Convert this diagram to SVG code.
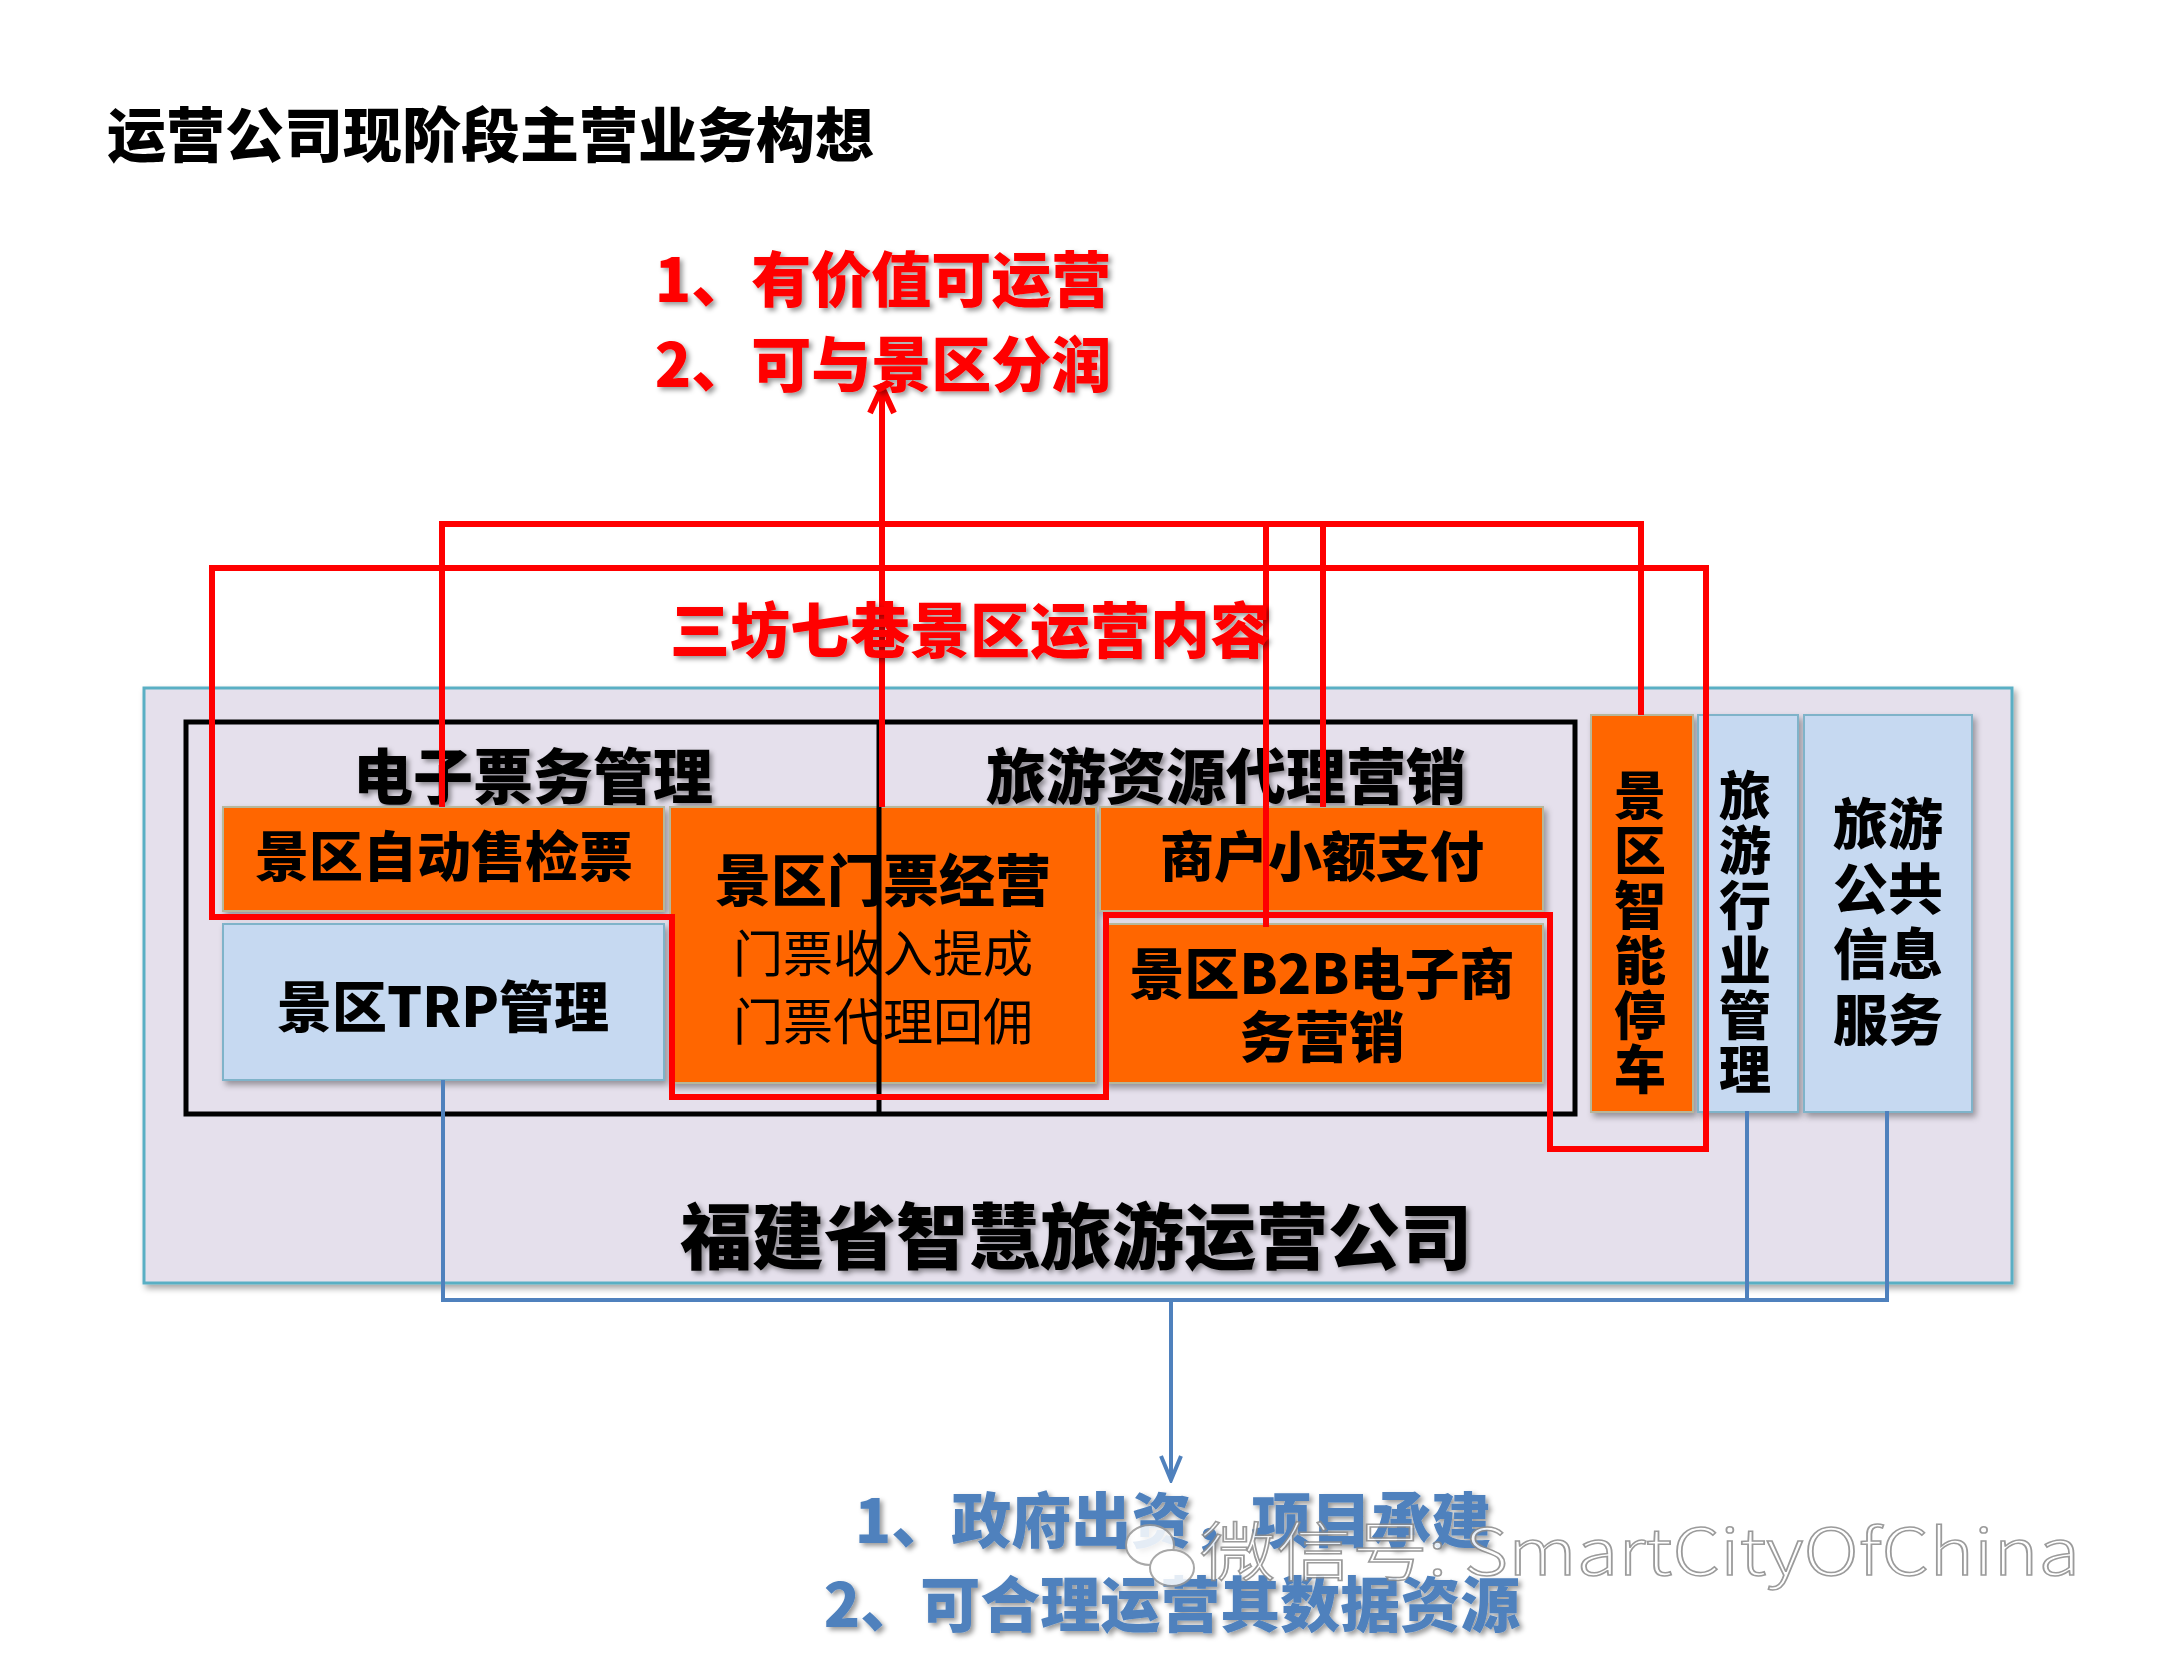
<svg xmlns="http://www.w3.org/2000/svg" width="2157" height="1668" viewBox="0 0 2157 1668">
<defs>
<style>
.t{font-family:"Noto Sans CJK SC","Noto Sans",sans-serif;text-anchor:middle;dominant-baseline:central}
.b{font-weight:900}
.r{font-weight:400}
.blk{fill:#000}
.red{fill:#FF0000}
.blu{fill:#4F81BD}
.or{fill:#FF6600;stroke:#B7B79A;stroke-width:2}
.lb{fill:#C6D9F1;stroke:#7FB3C9;stroke-width:2}
.rl{fill:none;stroke:#FF0000;stroke-width:6}
.bl{fill:none;stroke:#4F81BD;stroke-width:4}
</style>
<filter id="sh" x="-10%" y="-10%" width="130%" height="140%">
<feDropShadow dx="3" dy="4" stdDeviation="3" flood-color="#000" flood-opacity="0.35"/>
</filter>
<filter id="ts" x="-10%" y="-20%" width="130%" height="150%">
<feDropShadow dx="3" dy="3" stdDeviation="2.5" flood-color="#000" flood-opacity="0.4"/>
</filter>
<marker id="ar" viewBox="0 0 32 32" refX="16" refY="3" markerWidth="32" markerHeight="32" markerUnits="userSpaceOnUse" orient="0">
<path d="M4,30 L16,4 L28,30" fill="none" stroke="#FF0000" stroke-width="6"/>
</marker>
<marker id="ab" viewBox="0 0 30 30" refX="15" refY="27" markerWidth="30" markerHeight="30" markerUnits="userSpaceOnUse" orient="0">
<path d="M5,3 L15,27 L25,3" fill="none" stroke="#4F81BD" stroke-width="4"/>
</marker>
</defs>
<rect width="2157" height="1668" fill="#fff"/>

<text class="t b blk" x="107" y="131" font-size="59" style="text-anchor:start">运营公司现阶段主营业务构想</text>

<g id="company">
<rect x="144" y="688" width="1868" height="595" fill="#E5E0EC" stroke="#5AAFC4" stroke-width="3" filter="url(#sh)"/>
<text class="t b blk" x="1076" y="1231" font-size="72" filter="url(#ts)">福建省智慧旅游运营公司</text>
</g>

<g id="scenic-group">
<rect x="186" y="722" width="1389" height="392" fill="none" stroke="#000" stroke-width="5"/>
</g>

<g id="e-ticket">
<text class="t b blk" x="533" y="772" font-size="60" filter="url(#ts)">电子票务管理</text>
</g>
<g id="agency-marketing">
<text class="t b blk" x="1226" y="772" font-size="60" filter="url(#ts)">旅游资源代理营销</text>
</g>

<g id="auto-ticket">
<rect class="or" x="223" y="807" width="441" height="104" filter="url(#sh)"/>
<text class="t b blk" x="444" y="853" font-size="54">景区自动售检票</text>
</g>
<g id="trp">
<rect class="lb" x="223" y="924" width="441" height="156" filter="url(#sh)"/>
<text class="t b blk" x="443" y="1003" font-size="55">景区TRP管理</text>
</g>
<g id="ticket-ops">
<rect class="or" x="670" y="807" width="426" height="276" filter="url(#sh)"/>
<text class="t b blk" x="883" y="876" font-size="56">景区门票经营</text>
<text class="t r blk" x="883" y="950" font-size="50">门票收入提成</text>
<text class="t r blk" x="883" y="1018" font-size="50">门票代理回佣</text>
</g>
<g id="micropay">
<rect class="or" x="1100" y="807" width="443" height="104" filter="url(#sh)"/>
<text class="t b blk" x="1322" y="853" font-size="54">商户小额支付</text>
</g>
<g id="b2b">
<rect class="or" x="1104" y="924" width="439" height="159" filter="url(#sh)"/>
<text class="t b blk" x="1322" y="970" font-size="55">景区B2B电子商</text>
<text class="t b blk" x="1322" y="1033" font-size="55">务营销</text>
</g>
<g id="parking">
<rect class="or" x="1591" y="715" width="102" height="397" filter="url(#sh)"/>
<text class="t b blk" font-size="52"><tspan x="1640" y="792">景</tspan><tspan x="1640" y="847">区</tspan><tspan x="1640" y="902">智</tspan><tspan x="1640" y="957">能</tspan><tspan x="1640" y="1012">停</tspan><tspan x="1640" y="1066">车</tspan></text>
</g>
<g id="industry-mgmt">
<rect class="lb" x="1698" y="715" width="100" height="397" filter="url(#sh)"/>
<text class="t b blk" font-size="52"><tspan x="1745" y="792">旅</tspan><tspan x="1745" y="847">游</tspan><tspan x="1745" y="902">行</tspan><tspan x="1745" y="957">业</tspan><tspan x="1745" y="1012">管</tspan><tspan x="1745" y="1066">理</tspan></text>
</g>
<g id="public-info">
<rect class="lb" x="1804" y="715" width="168" height="397" filter="url(#sh)"/>
<text class="t b blk" font-size="55"><tspan x="1888" y="820">旅游</tspan><tspan x="1888" y="885">公共</tspan><tspan x="1888" y="950">信息</tspan><tspan x="1888" y="1016">服务</tspan></text>
</g>

<line x1="879" y1="722" x2="879" y2="1114" stroke="#000" stroke-width="5"/>

<g id="connectors">
<path class="rl" d="M212,568 H1706 V1149 H1550 V915 H1106 V1097 H672 V917 H212 Z"/>
<path class="rl" d="M442,807 V524 H1641 V715"/>
<path class="rl" d="M1266,524 V927"/>
<path class="rl" d="M1323,524 V807"/>
<path class="rl" d="M882,807 V386" marker-end="url(#ar)"/>
<path class="bl" d="M443,1080 V1300 H1887 V1111"/>
<path class="bl" d="M1747,1111 V1300"/>
<path class="bl" d="M1171,1300 V1480" marker-end="url(#ab)"/>
</g>

<g id="scenic-label">
<text class="t b red" x="970" y="626" font-size="60" filter="url(#ts)">三坊七巷景区运营内容</text>
</g>

<g id="value">
<text class="t b red" x="883" y="275" font-size="60" filter="url(#ts)">1、有价值可运营</text>
<text class="t b red" x="883" y="360" font-size="60" filter="url(#ts)">2、可与景区分润</text>
</g>

<g id="gov">
<text class="t b blu" x="1173" y="1516" font-size="60" filter="url(#ts)">1、政府出资，项目承建</text>
<text class="t b blu" x="1172" y="1600" font-size="60" filter="url(#ts)">2、可合理运营其数据资源</text>
</g>

<g id="watermark" opacity="0.85">
<ellipse cx="1150" cy="1545" rx="24" ry="20" fill="#fff" stroke="#999" stroke-width="2"/>
<ellipse cx="1172" cy="1568" rx="22" ry="18" fill="#fff" stroke="#999" stroke-width="2"/>
<text x="1200" y="1575" font-family="Noto Sans CJK SC, Noto Sans, sans-serif" font-weight="300" font-size="64" fill="#fff" stroke="#8a8a8a" stroke-width="1.5" textLength="880" lengthAdjust="spacingAndGlyphs">微信号: SmartCityOfChina</text>
</g>
</svg>
